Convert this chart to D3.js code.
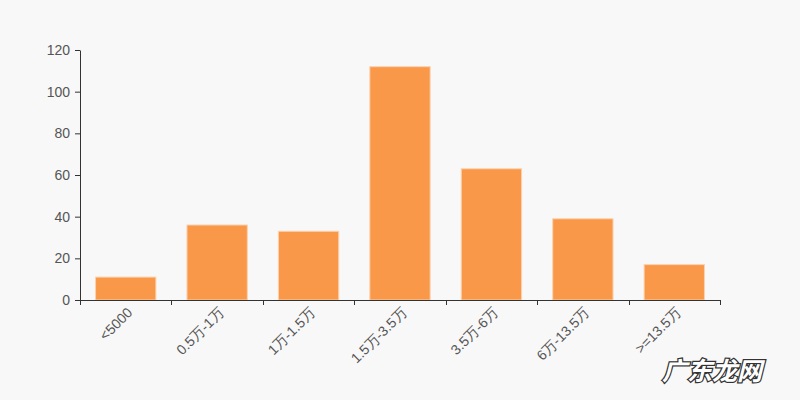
<!DOCTYPE html>
<html><head><meta charset="utf-8">
<script src="https://cdn.jsdelivr.net/npm/d3@7"></script>
<style>body{margin:0;background:#f8f8f8;}svg{display:block;}</style>
</head><body>
<svg id="c" width="800" height="400"></svg>
<script>
const categories = ["<5000","0.5万-1万","1万-1.5万","1.5万-3.5万","3.5万-6万","6万-13.5万",">=13.5万"];
const values = [11,36,33,112,63,39,17];
const yTicks = [0,20,40,60,80,100,120];

const svg = d3.select("#c");
svg.append("rect").attr("width",800).attr("height",400).attr("fill","#f8f8f8");
const m = {l:80, r:720, t:50, b:300};
const x = d3.scaleBand().domain(categories).range([m.l,m.r]).paddingInner(0.34).paddingOuter(0.17);
const y = d3.scaleLinear().domain([0,120]).range([m.b,m.t]);
const font = "Liberation Sans, Arial, sans-serif";

svg.append("g").selectAll("rect").data(values).join("rect")
  .attr("x",(d,i)=>x(categories[i]))
  .attr("y",d=>y(d))
  .attr("width",x.bandwidth())
  .attr("height",d=>y(0)-y(d))
  .attr("fill","#f89848")
  .attr("stroke","#fcd2b0").attr("stroke-width",1);

const ya = svg.append("g").attr("transform",`translate(${m.l},0)`)
  .call(d3.axisLeft(y).tickValues(yTicks).tickSize(5).tickSizeOuter(0).tickPadding(5));
ya.select(".domain").attr("stroke","#333");
ya.selectAll(".tick line").attr("stroke","#333");
ya.selectAll("text").attr("fill","#555").style("font-size","14px").style("font-family",font);

// x axis with ticks at band boundaries
const xa = svg.append("g").attr("transform",`translate(0,${m.b})`);
xa.append("line").attr("x1",m.l).attr("x2",m.r).attr("y1",0.5).attr("y2",0.5).attr("stroke","#333");
const step = (m.r-m.l)/categories.length;
const bounds = d3.range(categories.length+1).map(i=>m.l+i*step);
xa.selectAll("line.t").data(bounds).join("line").attr("class","t")
  .attr("x1",d=>Math.round(d)+0.5).attr("x2",d=>Math.round(d)+0.5).attr("y1",0).attr("y2",5).attr("stroke","#333");
xa.selectAll("text").data(categories).join("text")
  .attr("transform",(d)=>`translate(${x(d)+x.bandwidth()/2+4},10) rotate(-45)`)
  .attr("text-anchor","end").attr("dy","0.35em")
  .attr("fill","#555").style("font-size","14px").style("font-family",font)
  .text(d=>d);

// watermark
svg.append("text").attr("x",712).attr("y",380).attr("text-anchor","middle")
  .style("font-family","Noto Sans CJK SC").style("font-size","25px").style("font-weight","bold")
  .style("font-style","italic")
  .attr("fill","#fff").attr("stroke","#333").attr("stroke-width",2.5).attr("paint-order","stroke")
  .text("广东龙网");
</script>
</body></html>
